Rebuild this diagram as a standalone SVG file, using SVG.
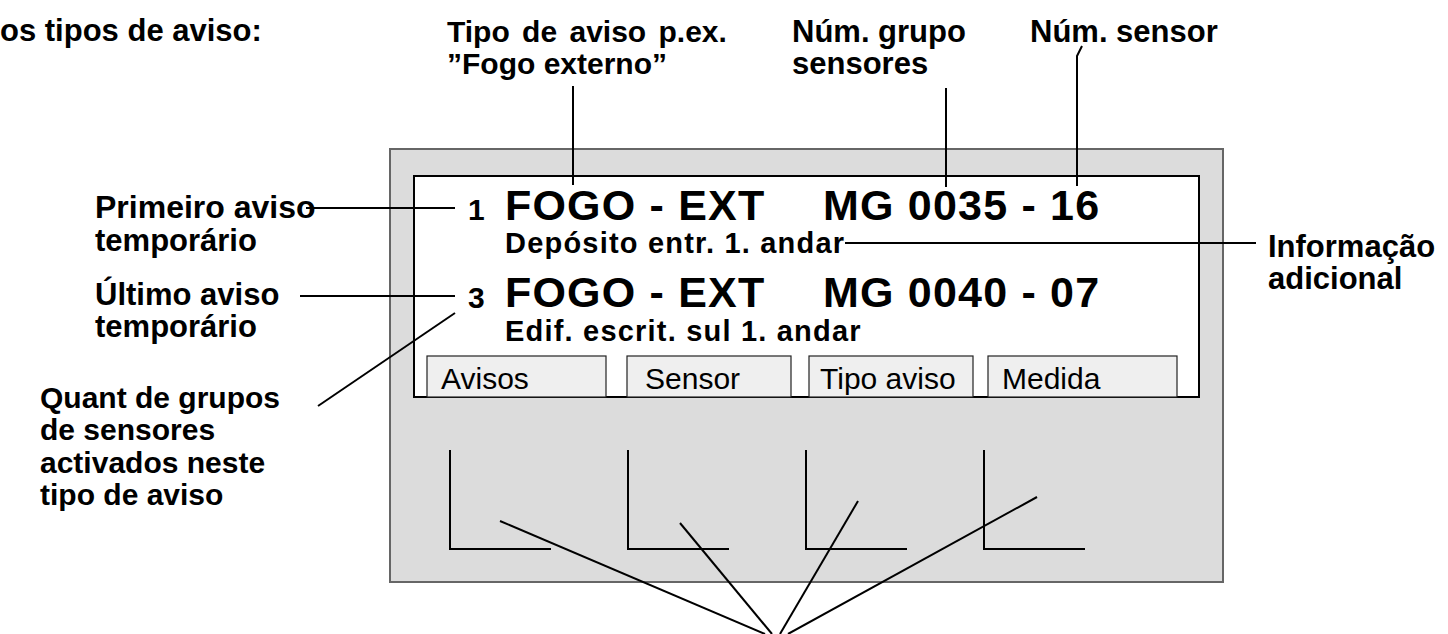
<svg xmlns="http://www.w3.org/2000/svg" width="1448" height="634" viewBox="0 0 1448 634">
<style>
.lbl{font-family:"Liberation Sans",Arial,sans-serif;font-weight:bold;font-size:30px;fill:#000}
.l31{font-size:31px}
.big{font-family:"Liberation Sans",Arial,sans-serif;font-weight:bold;font-size:43px;fill:#000;letter-spacing:1.2px}
.sub{font-family:"Liberation Sans",Arial,sans-serif;font-weight:bold;font-size:29px;fill:#000;letter-spacing:1.2px}
.btn{font-family:"Liberation Sans",Arial,sans-serif;font-size:30px;fill:#000}
.btnbox{fill:#efefef;stroke:#222;stroke-width:1.2}
.ln{stroke:#000;stroke-width:2;fill:none}
</style>
<rect width="1448" height="634" fill="#fff"/>
<g id="panel">
<rect x="390" y="149" width="833" height="433" fill="#dcdcdc" stroke="#666" stroke-width="2"/>
</g>
<g id="screen">
<rect x="414" y="176" width="785" height="221" fill="#fff" stroke="#000" stroke-width="2"/>
<text class="lbl" x="468" y="220">1</text>
<text class="big" x="505" y="220">FOGO - EXT</text>
<text class="big" x="823" y="220">MG 0035 - 16</text>
<text class="sub" x="505" y="253">Depósito entr. 1. andar</text>
<text class="lbl" x="468" y="308">3</text>
<text class="big" x="505" y="307">FOGO - EXT</text>
<text class="big" x="823" y="307">MG 0040 - 07</text>
<text class="sub" x="505" y="341">Edif. escrit. sul 1. andar</text>
</g>
<g id="softkeys">
<rect class="btnbox" x="427" y="356" width="179" height="41"/>
<text class="btn" x="441" y="389">Avisos</text>
<rect class="btnbox" x="627" y="356" width="164" height="41"/>
<text class="btn" x="645" y="389">Sensor</text>
<rect class="btnbox" x="809" y="356" width="164" height="41"/>
<text class="btn" x="820" y="389">Tipo aviso</text>
<rect class="btnbox" x="988" y="356" width="189" height="41"/>
<text class="btn" x="1002" y="389">Medida</text>
</g>
<g id="keys">
<path class="ln" d="M450,450 V549 H551"/>
<path class="ln" d="M628,450 V549 H729"/>
<path class="ln" d="M806,450 V549 H907"/>
<path class="ln" d="M984,450 V549 H1085"/>
</g>
<g id="labels">
<text class="lbl l31" x="0" y="41">os tipos de aviso:</text>
<text class="lbl" x="447" y="42" word-spacing="4">Tipo de aviso p.ex.</text>
<text class="lbl" x="447" y="74">”Fogo externo”</text>
<text class="lbl l31" x="792" y="42">Núm. grupo</text>
<text class="lbl l31" x="792" y="74">sensores</text>
<text class="lbl l31" x="1030" y="42">Núm. sensor</text>
<text class="lbl" x="95" y="218" style="font-size:32px">Primeiro aviso</text>
<text class="lbl l31" x="95" y="251">temporário</text>
<text class="lbl l31" x="95" y="305">Último aviso</text>
<text class="lbl l31" x="95" y="337">temporário</text>
<text class="lbl" x="40" y="408">Quant de grupos</text>
<text class="lbl" x="40" y="440">de sensores</text>
<text class="lbl" x="40" y="473">activados neste</text>
<text class="lbl" x="40" y="505">tipo de aviso</text>
<text class="lbl l31" x="1268" y="257">Informação</text>
<text class="lbl l31" x="1268" y="289">adicional</text>
</g>
<g id="connectors">
<line class="ln" x1="573" y1="86" x2="573" y2="185"/>
<line class="ln" x1="946" y1="88" x2="946" y2="187"/>
<polyline class="ln" points="1082,46 1077,56 1077,186"/>
<line class="ln" x1="306" y1="208" x2="455" y2="208"/>
<line class="ln" x1="300" y1="296" x2="455" y2="296"/>
<line class="ln" x1="318" y1="406" x2="455" y2="313"/>
<line class="ln" x1="845" y1="243" x2="1256" y2="243"/>
<line class="ln" x1="500" y1="521" x2="765" y2="634"/>
<line class="ln" x1="680" y1="523" x2="772" y2="634"/>
<line class="ln" x1="858" y1="501" x2="780" y2="634"/>
<line class="ln" x1="1037" y1="497" x2="788" y2="634"/>
</g>
</svg>
